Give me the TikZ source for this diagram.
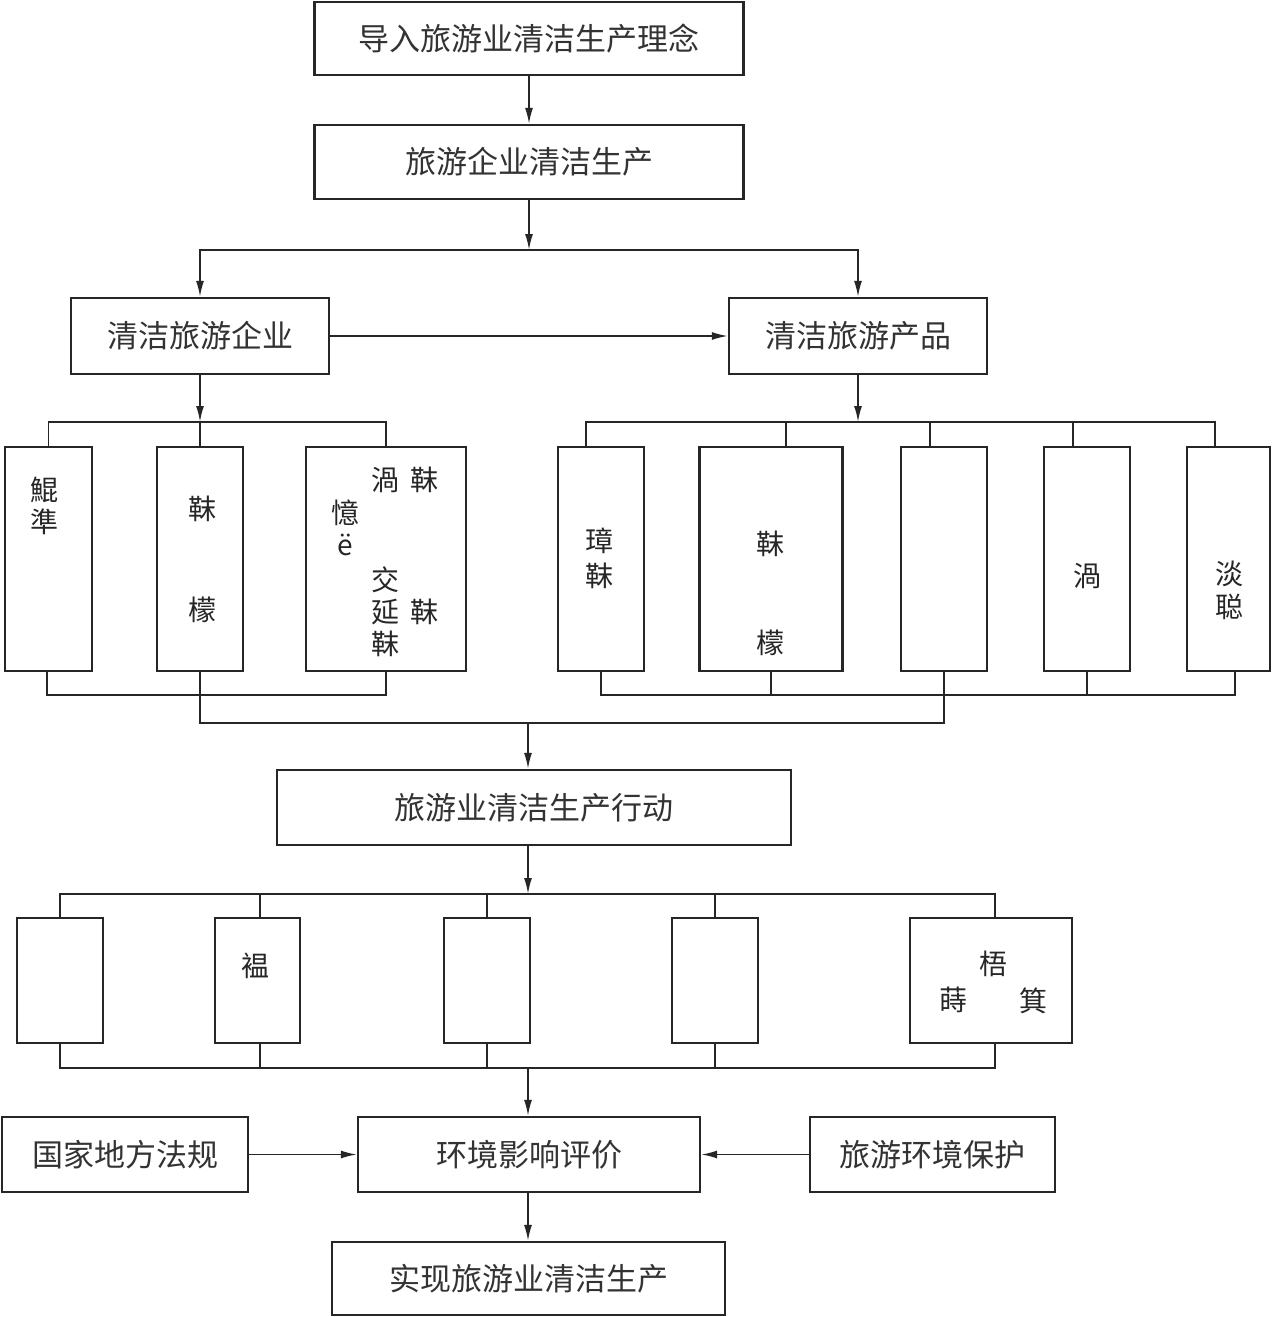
\documentclass[tikz,border=0pt]{standalone}
\usepackage{fontspec}
\newfontfamily\cjk{Noto Sans CJK SC}
\usetikzlibrary{arrows.meta}
\begin{document}
\begin{tikzpicture}[x=1pt,y=1pt,
 box/.style={draw=black!85, line width=2.2pt, inner sep=0pt, font=\cjk\fontsize{31}{31}\selectfont, text=black!80},
 vbox/.style={draw=black!85, line width=2.2pt, inner sep=0pt},
 glyph/.style={inner sep=0pt, font=\cjk\fontsize{28}{28}\selectfont, text=black!85},
 conn/.style={line width=1.8pt, draw=black!85},
 arr/.style={conn, -{Latex[length=16pt,width=8pt]}}]
\useasboundingbox[fill=white] (0,0) rectangle (1272,-1317);

% main boxes
\node[box, minimum width=429, minimum height=73] (B1) at (529,-38.5) {导入旅游业清洁生产理念};
\node[box, minimum width=429, minimum height=74] (B2) at (529,-162) {旅游企业清洁生产};
\node[box, minimum width=258, minimum height=76] (B3) at (200,-336) {清洁旅游企业};
\node[box, minimum width=258, minimum height=76] (B4) at (858,-336) {清洁旅游产品};
\node[box, minimum width=514, minimum height=75] (B5) at (534,-807.5) {旅游业清洁生产行动};
\node[box, minimum width=342, minimum height=75] (B6) at (529,-1154.5) {环境影响评价};
\node[box, minimum width=246, minimum height=75] (B7) at (125,-1154.5) {国家地方法规};
\node[box, minimum width=245, minimum height=75] (B8) at (932.5,-1154.5) {旅游环境保护};
\node[box, minimum width=393, minimum height=73] (B9) at (528.5,-1278.5) {实现旅游业清洁生产};

% left group of vertical boxes
\node[vbox, minimum width=87, minimum height=224] (L1) at (48.5,-559) {};
\node[vbox, minimum width=86, minimum height=224] (L2) at (200,-559) {};
\node[vbox, minimum width=160, minimum height=224] (L3) at (386,-559) {};
% right group
\node[vbox, minimum width=86, minimum height=224] (R1) at (601,-559) {};
\node[vbox, minimum width=143, minimum height=224] (R2) at (771,-559) {};
\node[vbox, minimum width=86, minimum height=224] (R3) at (944,-559) {};
\node[vbox, minimum width=86, minimum height=224] (R4) at (1087,-559) {};
\node[vbox, minimum width=83, minimum height=224] (R5) at (1228.5,-559) {};
% lower group
\node[vbox, minimum width=86, minimum height=125] (M1) at (60,-980.5) {};
\node[vbox, minimum width=85, minimum height=125] (M2) at (257.5,-980.5) {};
\node[vbox, minimum width=86, minimum height=125] (M3) at (487,-980.5) {};
\node[vbox, minimum width=86, minimum height=125] (M4) at (715,-980.5) {};
\node[vbox, minimum width=162, minimum height=125] (M5) at (991,-980.5) {};

% glyphs inside vertical boxes
\node[glyph] (tL1a) at (44,-490) {鯤};
\node[glyph] (tL1b) at (44,-522) {準};
\node[glyph] (tL2a) at (202,-509) {靺};
\node[glyph] (tL2b) at (202,-610) {檬};
\node[glyph] (tL3a) at (385,-480) {渦};
\node[glyph] (tL3b) at (424,-480) {靺};
\node[glyph] (tL3c) at (345,-513) {憶};
\node[glyph] (tL3d) at (345,-545) {ë};
\node[glyph] (tL3e) at (385,-580) {交};
\node[glyph] (tL3f) at (385,-612) {延};
\node[glyph] (tL3g) at (385,-644) {靺};
\node[glyph] (tL3h) at (424,-612) {靺};
\node[glyph] (tR1a) at (599,-541) {璋};
\node[glyph] (tR1b) at (599,-576) {靺};
\node[glyph] (tR2a) at (770,-544) {靺};
\node[glyph] (tR2b) at (770,-643) {檬};
\node[glyph] (tR4a) at (1087,-576) {渦};
\node[glyph] (tR5a) at (1229,-574) {淡};
\node[glyph] (tR5b) at (1229,-607) {聪};
\node[glyph] (tM2a) at (255,-966) {褞};
\node[glyph] (tM5a) at (993,-964) {梧};
\node[glyph] (tM5b) at (953,-1000) {蒔};
\node[glyph] (tM5c) at (1033,-1001) {箕};

% junction coordinates
\coordinate (j0) at (529,-250);
\coordinate (jL) at (200,-422);
\coordinate (jR) at (858,-422);
\coordinate (kL) at (200,-695);
\coordinate (kR) at (944,-695);
\coordinate (m) at (528,-723);
\coordinate (n0) at (528,-894);
\coordinate (p0) at (528,-1068);

% connectors
\draw[arr] (B1) -- (B2);
\draw[arr] (B2) -- (j0);
\draw[arr] (j0) -| (B3);
\draw[arr] (j0) -| (B4);
\draw[arr] (B3) -- (B4);

\draw[arr] (B3) -- (jL);
\draw[conn] (L1.north) |- (jL) -| (L3.north);
\draw[conn] (jL) -- (L2.north);

\draw[arr] (B4) -- (jR);
\draw[conn] ([xshift=-15pt]R1.north) |- (jR) -| ([xshift=-13.5pt]R5.north);
\draw[conn] ([xshift=15pt]R2.north) -- ++(0,25);
\draw[conn] ([xshift=-14pt]R3.north) -- ++(0,25);
\draw[conn] ([xshift=-14pt]R4.north) -- ++(0,25);

\draw[conn] ([xshift=-1.5pt]L1.south) |- (kL) -| (L3.south);
\draw[conn] (L2.south) -- (kL) |- (m);
\draw[conn] (R1.south) |- (kR) -| ([xshift=6.5pt]R5.south);
\draw[conn] (R2.south) -- ++(0,-24);
\draw[conn] (R3.south) -- (kR) |- (m);
\draw[conn] (R4.south) -- ++(0,-24);
\draw[arr] (m) -- (m |- B5.north);

\draw[arr] (B5.south -| n0) -- (n0);
\draw[conn] (M1.north) |- (n0) -| ([xshift=4pt]M5.north);
\draw[conn] ([xshift=2.5pt]M2.north) -- ++(0,24);
\draw[conn] (M3.north) -- ++(0,24);
\draw[conn] (M4.north) -- ++(0,24);

\draw[conn] (M1.south) |- (p0) -| ([xshift=4pt]M5.south);
\draw[conn] ([xshift=2.5pt]M2.south) -- ++(0,-25);
\draw[conn] (M3.south) -- ++(0,-25);
\draw[conn] (M4.south) -- ++(0,-25);
\draw[arr] (p0) -- (p0 |- B6.north);

\draw[arr] (B7) -- (B6);
\draw[arr] (B8) -- (B6);
\draw[arr] (B6.south -| p0) -- (p0 |- B9.north);
\end{tikzpicture}
\end{document}
